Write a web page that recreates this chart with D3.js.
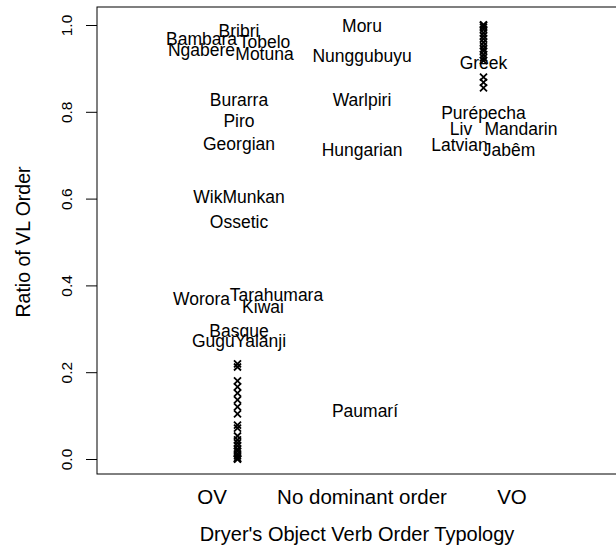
<!DOCTYPE html>
<html>
<head>
<meta charset="utf-8">
<title>VL order by OV typology</title>
<style>
  body { margin: 0; background: #fff; }
  text { font-family: "Liberation Sans", Arial, Helvetica, sans-serif; fill: #000; }
</style>
<script src="https://d3js.org/d3.v7.min.js"></script>
</head>
<body>
<div id="chart"></div>
<script>
// typology categories on the x axis
var typology = ["OV", "No dominant order", "VO"];
var typologyPos = [1, 2, 3];

var yTicks = [0, 0.2, 0.4, 0.6, 0.8, 1.0];

// labelled languages: name, x position (typology, jittered), ratio of VL order
var langNames = ["Bribri", "Bambara", "Tobelo", "Ngabere", "Motuna", "Burarra", "Piro", "Georgian",
  "WikMunkan", "Ossetic", "Worora", "Tarahumara", "Kiwai", "Basque", "GuguYalanji",
  "Moru", "Nunggubuyu", "Warlpiri", "Hungarian", "Paumarí",
  "Greek", "Purépecha", "Liv", "Mandarin", "Latvian", "Jabêm"];
var langX = [1.18, 0.93, 1.35, 0.93, 1.35, 1.18, 1.18, 1.18,
  1.18, 1.18, 0.93, 1.43, 1.34, 1.18, 1.18,
  2.0, 2.0, 2.0, 2.0, 2.02,
  2.81, 2.81, 2.66, 3.06, 2.65, 2.98];
var langRatio = [0.986, 0.968, 0.962, 0.942, 0.935, 0.827, 0.779, 0.726,
  0.604, 0.546, 0.369, 0.378, 0.350, 0.295, 0.272,
  0.998, 0.929, 0.827, 0.712, 0.111,
  0.912, 0.797, 0.760, 0.760, 0.724, 0.712];

// unlabelled languages (crosses)
var ovCrossX = 1.17;
var ovCrossRatio = [0.219, 0.212, 0.180, 0.166, 0.152, 0.136, 0.120, 0.104, 0.078, 0.071,
  0.053, 0.044, 0.037, 0.030, 0.023, 0.018, 0.012, 0.007, 0.002, 0.0, 0.0];
var voCrossX = 2.81;
var voCrossRatio = [1.0, 1.0, 0.995, 0.99, 0.982, 0.975, 0.968, 0.96, 0.952, 0.945,
  0.94, 0.932, 0.925, 0.918, 0.88, 0.868, 0.855];

var width = 616, height = 560;
var frame = {left: 97, top: 7, right: 660, bottom: 474};

var svg = d3.select("#chart").append("svg")
  .attr("width", width)
  .attr("height", height);

var x = d3.scaleLinear().domain([1, 3]).range([212, 512]);
var y = d3.scaleLinear().domain([0, 1]).range([459, 25]);

// box
svg.append("rect")
  .attr("x", frame.left)
  .attr("y", frame.top)
  .attr("width", frame.right - frame.left)
  .attr("height", frame.bottom - frame.top)
  .attr("fill", "none")
  .attr("stroke", "#000")
  .attr("stroke-width", 1);

// y axis, labels rotated like R's default las=0
var yAxis = d3.axisLeft(y)
  .tickValues(yTicks)
  .tickSize(11)
  .tickFormat(d3.format(".1f"));

var gy = svg.append("g")
  .attr("transform", "translate(" + frame.left + ",0)")
  .call(yAxis);
gy.select(".domain").remove();
gy.selectAll("line").attr("stroke", "#000");
gy.selectAll(".tick text")
  .attr("x", 0)
  .attr("y", 0)
  .attr("dy", 0)
  .attr("transform", "translate(-31,0) rotate(-90)")
  .attr("dominant-baseline", "central")
  .style("text-anchor", "middle")
  .style("font-size", "15.5px")
  .style("font-family", "'Liberation Sans', Arial, sans-serif");

// x axis labels (no ticks)
svg.append("g").selectAll("text")
  .data(typology)
  .enter().append("text")
  .attr("x", function(d, i) { return x(typologyPos[i]); })
  .attr("y", 497)
  .attr("dy", "0.36em")
  .attr("text-anchor", "middle")
  .style("font-size", "20.5px")
  .text(function(d) { return d; });

// axis titles
svg.append("text")
  .attr("x", x(2) - 5)
  .attr("y", 534)
  .attr("dy", "0.36em")
  .attr("text-anchor", "middle")
  .style("font-size", "20px")
  .text("Dryer's Object Verb Order Typology");

svg.append("text")
  .attr("transform", "translate(23," + y(0.5) + ") rotate(-90)")
  .attr("dy", "0.36em")
  .attr("text-anchor", "middle")
  .style("font-size", "19.5px")
  .text("Ratio of VL Order");

// crosses
function cross(s) {
  return "M" + (-s) + "," + (-s) + "L" + s + "," + s + "M" + (-s) + "," + s + "L" + s + "," + (-s);
}
var crosses = ovCrossRatio.map(function(v) { return {x: ovCrossX, v: v}; })
  .concat(voCrossRatio.map(function(v) { return {x: voCrossX, v: v}; }));

svg.append("g").selectAll("path")
  .data(crosses)
  .enter().append("path")
  .attr("transform", function(d) { return "translate(" + x(d.x) + "," + y(d.v) + ")"; })
  .attr("d", cross(3.5))
  .attr("stroke", "#000")
  .attr("stroke-width", 1.8)
  .attr("fill", "none");

// language labels
svg.append("g").selectAll("text")
  .data(langNames)
  .enter().append("text")
  .attr("x", function(d, i) { return x(langX[i]); })
  .attr("y", function(d, i) { return y(langRatio[i]); })
  .attr("dy", "0.36em")
  .attr("text-anchor", "middle")
  .style("font-size", "17.5px")
  .text(function(d) { return d; });
</script>
</body>
</html>
